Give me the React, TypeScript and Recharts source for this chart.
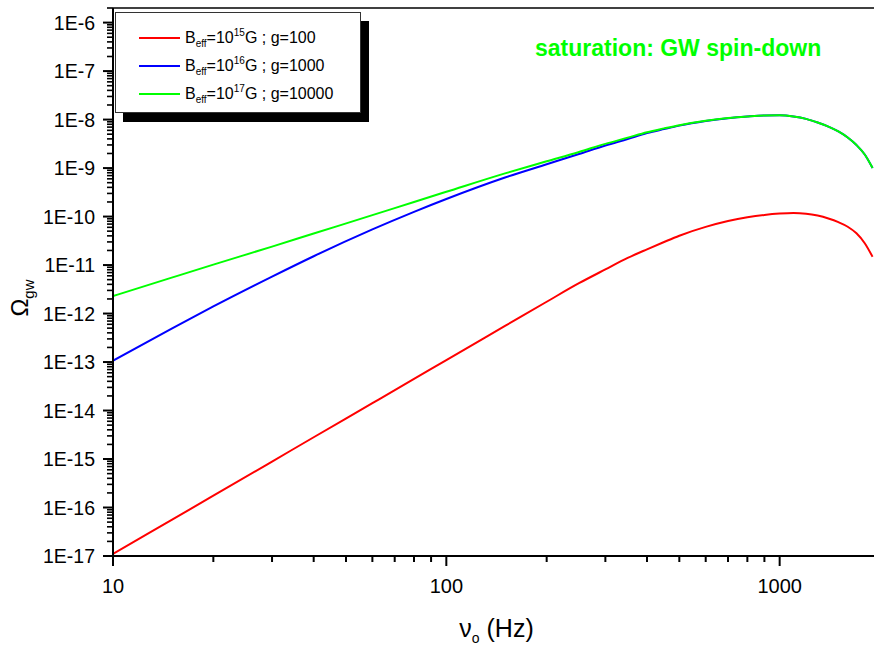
import { LineChart, Line, XAxis, YAxis, Legend, ReferenceLine } from "recharts";

const FONT = "'Liberation Sans', Arial, sans-serif";

// frequency nu_o (Hz)
const freq = [
  10, 15, 20, 30, 40, 60, 80, 100, 150, 200, 250, 300, 350, 400, 450, 500, 600,
  700, 800, 900, 1000, 1100, 1200, 1300, 1400, 1500, 1600, 1700, 1800, 1900,
];

// Omega_gw, B_eff = 1e15 G, g = 100
const omegaB15 = [
  1.1e-17, 5.55e-17, 1.75e-16, 8.87e-16, 2.81e-15, 1.42e-14, 4.49e-14, 1.1e-13,
  5.55e-13, 1.75e-12, 4.22e-12, 8.13e-12, 1.4e-11, 2.11e-11, 2.99e-11, 4.03e-11,
  6.12e-11, 8.09e-11, 9.68e-11, 1.081e-10, 1.153e-10, 1.186e-10, 1.148e-10,
  1.047e-10, 9.12e-11, 7.67e-11, 6.17e-11, 4.52e-11, 2.82e-11, 1.48e-11,
];
// Omega_gw, B_eff = 1e16 G, g = 1000
const omegaB16 = [
  1.07e-13, 4.9e-13, 1.4e-12, 5.77e-12, 1.52e-11, 5.43e-11, 1.25e-10, 2.3e-10,
  6.38e-10, 1.2e-9, 1.95e-9, 2.92e-9, 3.98e-9, 5.25e-9, 6.37e-9, 7.5e-9, 9.33e-9,
  1.07e-8, 1.16e-8, 1.216e-8, 1.225e-8, 1.16e-8, 1.035e-8, 8.7e-9, 7.16e-9,
  5.69e-9, 4.27e-9, 2.99e-9, 1.9e-9, 1.0e-9,
];
// Omega_gw, B_eff = 1e17 G, g = 10000
const omegaB17 = [
  2.29e-12, 5.5e-12, 1.02e-11, 2.4e-11, 4.47e-11, 1.07e-10, 2.0e-10, 3.24e-10,
  7.76e-10, 1.38e-9, 2.15e-9, 3.16e-9, 4.24e-9, 5.5e-9, 6.59e-9, 7.67e-9,
  9.44e-9, 1.076e-8, 1.16e-8, 1.216e-8, 1.225e-8, 1.16e-8, 1.035e-8, 8.7e-9,
  7.16e-9, 5.69e-9, 4.27e-9, 2.99e-9, 1.9e-9, 1.0e-9,
];

const series = [
  { key: "b15", color: "#ff0000", exp: "15", g: "100" },
  { key: "b16", color: "#0000ff", exp: "16", g: "1000" },
  { key: "b17", color: "#00ff00", exp: "17", g: "10000" },
];

const xMajorTicks = [10, 100, 1000];
const xTickLabels = ["10", "100", "1000"];
const yMajorTicks = [
  1e-17, 1e-16, 1e-15, 1e-14, 1e-13, 1e-12, 1e-11, 1e-10, 1e-9, 1e-8, 1e-7, 1e-6,
];
const yTickLabels = [
  "1E-17", "1E-16", "1E-15", "1E-14", "1E-13", "1E-12", "1E-11", "1E-10",
  "1E-9", "1E-8", "1E-7", "1E-6",
];

const xDomain = [10, 2000];
const yDomain = [1e-17, 2e-6];

const W = 880;
const H = 645;
const TOP = 8;
const X_AXIS_H = 89;
const Y_AXIS_W = 113;
// px per decade on the y axis, used for the minor ticks inside each decade
const yDecadePx = (H - TOP - X_AXIS_H) / Math.log10(yDomain[1] / yDomain[0]);

function minorTicks(majors: number[], max: number) {
  const out: number[] = [];
  majors.forEach((m) => {
    for (let k = 2; k <= 9; k++) if (m * k <= max * 1.0001) out.push(m * k);
  });
  return out;
}

const xTicks = [...xMajorTicks, ...minorTicks(xMajorTicks, 1900)].sort((a, b) => a - b);

const fmtX = (v: number) => xTickLabels[xMajorTicks.indexOf(v)] ?? "";
const fmtY = (v: number) => yTickLabels[yMajorTicks.indexOf(v)] ?? "";

const data = freq.map((f, i) => ({
  freq: f,
  b15: omegaB15[i],
  b16: omegaB16[i],
  b17: omegaB17[i],
}));

function XTick({ x, y, payload }: any) {
  const label = fmtX(payload.value);
  return (
    <g>
      <line x1={x} x2={x} y1={y} y2={y + (label ? 10 : 6)} stroke="#000" strokeWidth={2} />
      {label && (
        <text x={x} y={y + 37} textAnchor="middle" fontSize={20} fontFamily={FONT} fill="#000">
          {label}
        </text>
      )}
    </g>
  );
}

// major tick + label, plus the 2..9 minor ticks of the decade above it
function YTick({ x, y, payload }: any) {
  const v = payload.value;
  const minors = [2, 3, 4, 5, 6, 7, 8, 9].filter((k) => v * k <= yDomain[1] * 1.0001);
  return (
    <g>
      <line x1={x - 10} x2={x} y1={y} y2={y} stroke="#000" strokeWidth={2} />
      {minors.map((k) => {
        const ym = y - yDecadePx * Math.log10(k);
        return <line key={k} x1={x - 6} x2={x} y1={ym} y2={ym} stroke="#000" strokeWidth={1.6} />;
      })}
      <text x={x - 18} y={y + 7} textAnchor="end" fontSize={19.5} fontFamily={FONT} fill="#000">
        {fmtY(v)}
      </text>
    </g>
  );
}

function XTitle({ viewBox }: any) {
  const cx = viewBox.x + viewBox.width / 2;
  return (
    <text x={cx} y={viewBox.y + 81} textAnchor="middle" fontSize={25} fontFamily={FONT} fill="#000">
      ν<tspan fontSize={14} dy={6}>o</tspan>
      <tspan dy={-6}> (Hz)</tspan>
    </text>
  );
}

function YTitle() {
  return (
    <text
      x={28}
      y={298}
      textAnchor="middle"
      fontSize={24}
      fontFamily={FONT}
      fill="#000"
      transform="rotate(-90, 28, 298)"
    >
      Ω<tspan fontSize={15} dy={6}>gw</tspan>
    </text>
  );
}

function LegendBox() {
  return (
    <div
      style={{
        position: "relative",
        width: 246,
        height: 101,
        boxSizing: "border-box",
        border: "1.5px solid #333",
        background: "#fff",
        boxShadow: "8px 9px 0 #000",
        fontFamily: FONT,
        fontSize: 16,
        color: "#000",
      }}
    >
      {series.map((s, i) => (
        <div
          key={s.key}
          style={{
            position: "absolute",
            left: 23,
            top: 15 + i * 28,
            height: 20,
            display: "flex",
            alignItems: "center",
            whiteSpace: "nowrap",
          }}
        >
          <span style={{ display: "inline-block", width: 41, height: 2, background: s.color }} />
          <span style={{ marginLeft: 5 }}>
            B<span style={{ fontSize: 10, position: "relative", top: 4 }}>eff</span>=10
            <span style={{ fontSize: 10, position: "relative", top: -7 }}>{s.exp}</span>G ; g={s.g}
          </span>
        </div>
      ))}
    </div>
  );
}

export default function App() {
  return (
    <div
      style={{
        position: "absolute",
        left: 0,
        top: 0,
        width: 874,
        height: H,
        overflow: "hidden",
        background: "#fff",
      }}
    >
      <LineChart width={W} height={H} data={data} margin={{ top: TOP, right: 0, bottom: 0, left: 0 }}>
        <XAxis
          dataKey="freq"
          type="number"
          scale="log"
          domain={xDomain}
          ticks={xTicks}
          interval={0}
          minTickGap={0}
          tickFormatter={fmtX}
          allowDataOverflow
          height={X_AXIS_H}
          tickSize={0}
          tickMargin={0}
          tickLine={false}
          tick={XTick}
          axisLine={{ stroke: "#000", strokeWidth: 2 }}
          label={{ content: XTitle }}
        />
        <YAxis
          type="number"
          scale="log"
          domain={yDomain}
          ticks={yMajorTicks}
          interval={0}
          minTickGap={0}
          tickFormatter={fmtY}
          allowDataOverflow
          width={Y_AXIS_W}
          tickSize={0}
          tickMargin={0}
          tickLine={false}
          tick={YTick}
          axisLine={{ stroke: "#000", strokeWidth: 2 }}
          label={{ content: YTitle }}
        />
        <ReferenceLine y={yDomain[1]} stroke="#000" strokeWidth={1.5} />
        {series.map((s) => (
          <Line
            key={s.key}
            dataKey={s.key}
            type="monotone"
            stroke={s.color}
            strokeWidth={2}
            dot={false}
            isAnimationActive={false}
          />
        ))}
        <Legend
          layout="vertical"
          align="center"
          verticalAlign="middle"
          wrapperStyle={{ left: 115, top: 12, width: 246 }}
          content={LegendBox}
        />
      </LineChart>
      <div
        style={{
          position: "absolute",
          left: 535,
          top: 36,
          fontFamily: FONT,
          fontWeight: "bold",
          fontSize: 23,
          lineHeight: "24px",
          color: "#00ff00",
          whiteSpace: "nowrap",
        }}
      >
        saturation: GW spin-down
      </div>
    </div>
  );
}
